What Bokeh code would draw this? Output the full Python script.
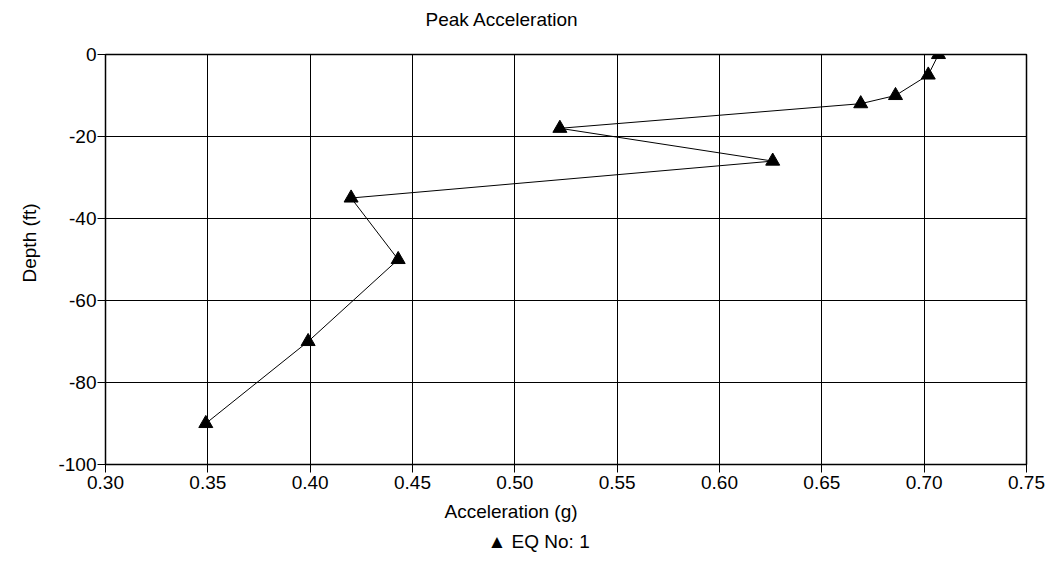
from bokeh.embed import file_html
from bokeh.models import (FixedTicker, PrintfTickFormatter,
                          Range1d, Title)
from bokeh.plotting import figure
from bokeh.resources import INLINE

# Peak acceleration profile with depth, earthquake no. 1
acceleration_g = [0.707, 0.702, 0.686, 0.669, 0.522, 0.626, 0.420, 0.443, 0.399, 0.349]
depth_ft = [0, -5, -10, -12, -18, -26, -35, -50, -70, -90]
series_name = "EQ No:  1"

x_ticks = [0.30, 0.35, 0.40, 0.45, 0.50, 0.55, 0.60, 0.65, 0.70, 0.75]
y_ticks = [0, -20, -40, -60, -80, -100]

FONT = "Liberation Sans"
SIZE = "19px"

p = figure(
    width=1053,
    height=571,
    output_backend="svg",
    toolbar_location=None,
    x_range=Range1d(0.30, 0.75),
    y_range=Range1d(-100, 0),
    min_border_left=104,
    min_border_right=27,
    min_border_top=54,
    min_border_bottom=107,
)
p.background_fill_color = "white"
p.border_fill_color = "white"
p.outline_line_color = "black"
p.outline_line_width = 1.5

for ax, ticks in ((p.xaxis, x_ticks), (p.yaxis, y_ticks)):
    ax.ticker = FixedTicker(ticks=ticks)
    ax.axis_line_color = None
    ax.major_tick_line_color = "black"
    ax.major_tick_in = 0
    ax.major_tick_out = 8
    ax.minor_tick_line_color = None
    ax.major_label_text_font = FONT
    ax.major_label_text_font_size = SIZE
    ax.major_label_text_color = "black"

p.xaxis.formatter = PrintfTickFormatter(format="%.2f")
p.yaxis.formatter = PrintfTickFormatter(format="%d")
p.xaxis.major_label_standoff = 3
p.yaxis.major_label_standoff = 1

p.xgrid.ticker = FixedTicker(ticks=x_ticks)
p.ygrid.ticker = FixedTicker(ticks=y_ticks)
for g in (p.xgrid, p.ygrid):
    g.grid_line_color = "black"
    g.grid_line_width = 1

p.line(acceleration_g, depth_ft, line_color="black", line_width=1)
p.scatter(acceleration_g, depth_ft, marker="triangle", size=14,
          fill_color="black", line_color="black")


def caption(text, offset, standoff, align="left"):
    return Title(text=text, align=align, offset=offset, standoff=standoff,
                 text_font=FONT, text_font_size=SIZE, text_font_style="normal",
                 text_color="black")


# Heading sits a line above its panel's baseline to leave a gap over the frame
p.title = caption("Peak Acceleration\n", 320, 8)

p.add_layout(caption("Acceleration (g)", 339, 14), "below")
p.add_layout(caption("\u25b2 " + series_name, 382, 0), "below")
p.add_layout(caption("Depth (ft)", 182, 32), "left")

open("out.html", "w").write(file_html(p, INLINE))
